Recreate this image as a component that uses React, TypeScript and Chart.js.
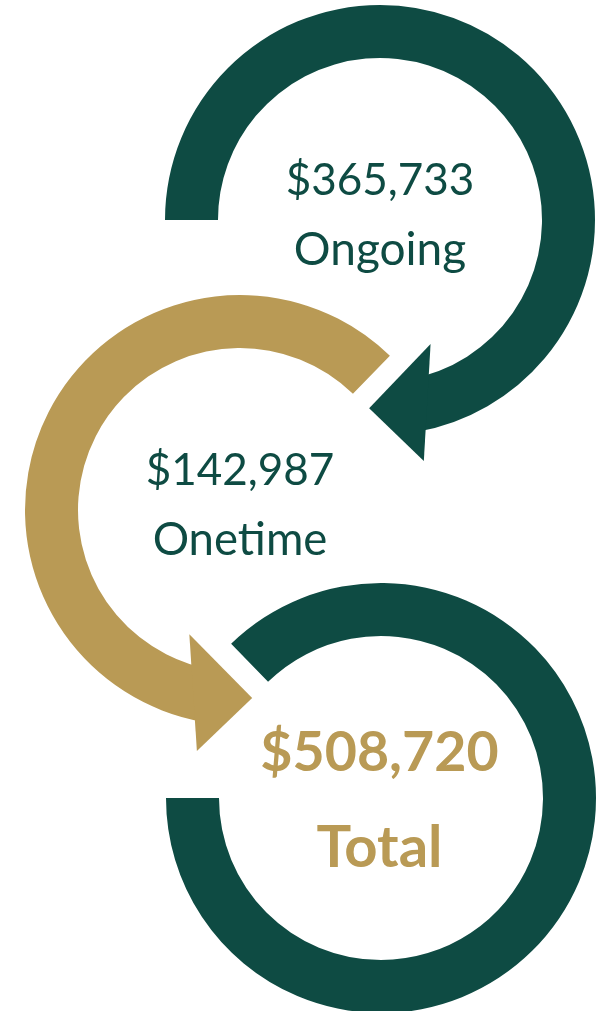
import React, { useEffect, useRef } from 'react';
import { Chart, registerables } from 'chart.js';

Chart.register(...registerables);

// ---- data ----
const LABELS: string[] = ['Ongoing', 'Onetime', 'Total'];
const AMOUNTS: number[] = [365733, 142987, 508720];

// ---- style / layout ----
const GREEN = '#0E4B43';
const GOLD = '#B99A55';
const OUTER_R = 215;
const INNER_R = 162;
const PAD = 70;
const SIZE = OUTER_R * 2 + PAD * 2;
const FONT = 'Lato, "Open Sans", sans-serif';

type Ring = {
  cx: number;
  cy: number;
  rotation: number;
  sweep: number;
  color: string;
  arrow: 'start' | 'end' | null;
  textColor: string;
  bold: boolean;
  valueSize: number;
  labelSize: number;
  valueDy: number;
  labelDy: number;
  textDx: number;
  z: number;
};

const RINGS: Ring[] = [
  { cx: 380, cy: 220, rotation: 270, sweep: 260, color: GREEN, arrow: 'end', textColor: GREEN, bold: false, valueSize: 44, labelSize: 46, valueDy: -25, labelDy: 45, textDx: 0, z: 3 },
  { cx: 240, cy: 510, rotation: 190, sweep: 214.2, color: GOLD, arrow: 'start', textColor: GREEN, bold: false, valueSize: 44, labelSize: 45.5, valueDy: -25, labelDy: 45, textDx: 0, z: 2 },
  { cx: 381, cy: 798, rotation: 315.8, sweep: 314.2, color: GREEN, arrow: null, textColor: GOLD, bold: true, valueSize: 55.5, labelSize: 58, valueDy: -27, labelDy: 69, textDx: -1.5, z: 1 },
];

const fmt = (v: number) => '$' + v.toLocaleString('en-US');

function arrowPoints(arc: any, side: 'start' | 'end') {
  const p = arc.getProps(['x', 'y', 'startAngle', 'endAngle', 'innerRadius', 'outerRadius'], true);
  const d = Math.PI / 180;
  const mid = (p.innerRadius + p.outerRadius) / 2;
  const hw = (p.outerRadius - p.innerRadius) * 1.105;
  let base: number;
  let tip: number;
  if (side === 'end') {
    base = p.endAngle - 4.5 * d;
    tip = base + 17.8 * d;
  } else {
    base = p.startAngle + 4.4 * d;
    tip = base - 18.1 * d;
  }
  const bx = p.x + mid * Math.cos(base);
  const by = p.y + mid * Math.sin(base);
  const tx = p.x + mid * Math.cos(tip);
  const ty = p.y + mid * Math.sin(tip);
  const ux = Math.cos(tip);
  const uy = Math.sin(tip);
  return [
    [tx, ty],
    [bx - ux * hw, by - uy * hw],
    [bx + ux * hw, by + uy * hw],
  ];
}

function tracePath(ctx: CanvasRenderingContext2D, pts: number[][]) {
  ctx.beginPath();
  ctx.moveTo(pts[0][0], pts[0][1]);
  ctx.lineTo(pts[1][0], pts[1][1]);
  ctx.lineTo(pts[2][0], pts[2][1]);
  ctx.closePath();
}

function makePlugin(index: number) {
  const ring = RINGS[index];
  return {
    id: 'ringDecor' + index,
    beforeDatasetsDraw(chart: any) {
      if (!ring.arrow) return;
      const arc = chart.getDatasetMeta(0).data[0];
      const pts = arrowPoints(arc, ring.arrow);
      const ctx = chart.ctx as CanvasRenderingContext2D;
      ctx.save();
      tracePath(ctx, pts);
      ctx.fillStyle = '#ffffff';
      ctx.strokeStyle = '#ffffff';
      ctx.lineWidth = 40;
      ctx.lineJoin = 'miter';
      ctx.fill();
      ctx.stroke();
      ctx.restore();
    },
    afterDatasetsDraw(chart: any) {
      if (!ring.arrow) return;
      const arc = chart.getDatasetMeta(0).data[0];
      const pts = arrowPoints(arc, ring.arrow);
      const ctx = chart.ctx as CanvasRenderingContext2D;
      ctx.save();
      tracePath(ctx, pts);
      ctx.fillStyle = ring.color;
      ctx.fill();
      ctx.restore();
    },
    afterDraw(chart: any) {
      const arc = chart.getDatasetMeta(0).data[0];
      const p = arc.getProps(['x', 'y'], true);
      const ctx = chart.ctx as CanvasRenderingContext2D;
      const weight = ring.bold ? 'bold ' : '';
      ctx.save();
      ctx.fillStyle = ring.textColor;
      ctx.textAlign = 'center';
      ctx.textBaseline = 'alphabetic';
      ctx.font = `${weight}${ring.valueSize}px ${FONT}`;
      ctx.fillText(fmt(AMOUNTS[index]), p.x + ring.textDx, p.y + ring.valueDy);
      ctx.font = `${weight}${ring.labelSize}px ${FONT}`;
      ctx.fillText(LABELS[index], p.x + ring.textDx, p.y + ring.labelDy);
      ctx.restore();
    },
  };
}

function RingChart({ index }: { index: number }) {
  const ref = useRef<HTMLCanvasElement>(null);
  const ring = RINGS[index];
  useEffect(() => {
    if (!ref.current) return;
    const value = AMOUNTS[index];
    const gap = (value * (360 - ring.sweep)) / ring.sweep;
    const chart = new Chart(ref.current, {
      type: 'doughnut',
      data: {
        labels: [LABELS[index], ''],
        datasets: [
          {
            data: [value, gap],
            backgroundColor: [ring.color, 'rgba(0,0,0,0)'],
            borderWidth: 0,
            hoverOffset: 0,
            offset: 0,
          },
        ],
      },
      options: {
        responsive: false,
        maintainAspectRatio: false,
        animation: false,
        events: [],
        rotation: ring.rotation,
        circumference: 360,
        cutout: INNER_R,
        radius: OUTER_R,
        layout: { padding: PAD },
        plugins: {
          legend: { display: false },
          tooltip: { enabled: false },
        },
      } as any,
      plugins: [makePlugin(index)],
    });
    let alive = true;
    if ((document as any).fonts && (document as any).fonts.ready) {
      (document as any).fonts.ready.then(() => {
        if (alive) chart.draw();
      });
    }
    return () => {
      alive = false;
      chart.destroy();
    };
  }, [index]);
  return (
    <canvas
      ref={ref}
      width={SIZE}
      height={SIZE}
      style={{
        position: 'absolute',
        left: ring.cx - SIZE / 2,
        top: ring.cy - SIZE / 2,
        width: SIZE,
        height: SIZE,
        zIndex: ring.z,
        display: 'block',
      }}
    />
  );
}

export default function App() {
  return (
    <div
      style={{
        position: 'absolute',
        left: 0,
        top: 0,
        width: 611,
        height: 1011,
        overflow: 'hidden',
        background: '#ffffff',
      }}
    >
      {RINGS.map((_, i) => (
        <RingChart key={i} index={i} />
      ))}
    </div>
  );
}
